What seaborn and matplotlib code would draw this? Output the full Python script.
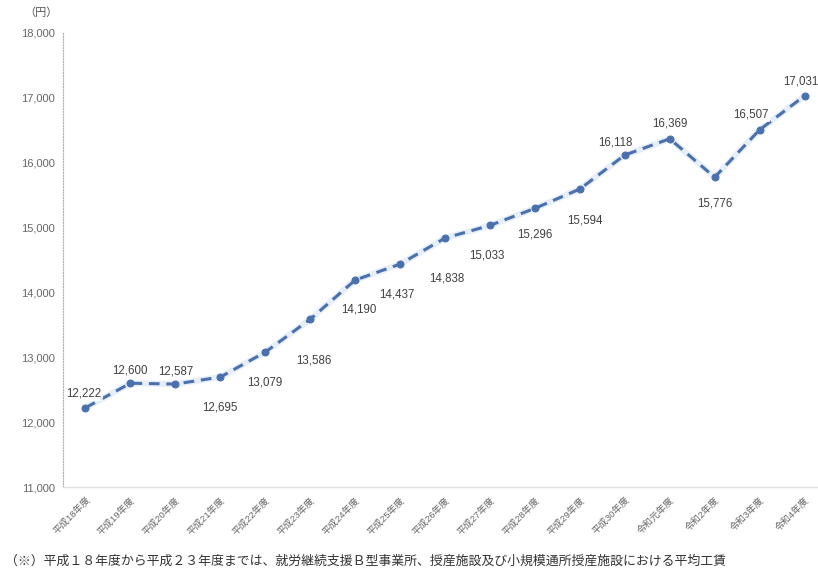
import matplotlib
matplotlib.use("Agg")
import matplotlib.pyplot as plt
import seaborn as sns
import pandas as pd
import numpy as np

years = ["平成18年度", "平成19年度", "平成20年度", "平成21年度", "平成22年度",
         "平成23年度", "平成24年度", "平成25年度", "平成26年度", "平成27年度",
         "平成28年度", "平成29年度", "平成30年度", "令和元年度", "令和2年度",
         "令和3年度", "令和4年度"]
wages = [12222, 12600, 12587, 12695, 13079, 13586, 14190, 14437, 14838,
         15033, 15296, 15594, 16118, 16369, 15776, 16507, 17031]
y_ticks = [11000, 12000, 13000, 14000, 15000, 16000, 17000, 18000]
unit_label = "（円）"
footnote = "（※）平成１８年度から平成２３年度までは、就労継続支援Ｂ型事業所、授産施設及び小規模通所授産施設における平均工賃"

# label placement (style): offset in points (dx, dy)
label_offsets = [(-1, 10), (0, 9), (0, 9), (0, -22), (0, -22), (3, -30),
                 (3, -21), (-2, -22), (1, -29), (-2, -22), (0, -19), (4, -23),
                 (-7, 9), (0, 11), (0, -19), (-6, 11), (-3, 10)]

sns.set_theme(style="white")
plt.rcParams['font.family'] = ['Liberation Sans', 'Noto Sans CJK JP', 'DejaVu Sans']

df = pd.DataFrame({"pos": np.arange(len(years)), "wage": wages})

fig = plt.figure(figsize=(8.18, 5.77), dpi=100)
ax = fig.add_axes([63/818, 90/577, 764/818, 454/577])

color = "#4a70ad"
ax.plot(df["pos"], df["wage"], color="#e6eff9", lw=4.5, solid_capstyle="round", zorder=1)
sns.lineplot(data=df, x="pos", y="wage", ax=ax, color=color, lw=2.2,
             linestyle=(0, (3.5, 2.2)), marker="o", markersize=5,
             markeredgecolor=color, zorder=3)

for i, (v, (dx, dy)) in enumerate(zip(wages, label_offsets)):
    ax.annotate(f"{v:,}", (i, v), xytext=(dx, dy), textcoords="offset points",
                ha="center", va="center", fontsize=8.3, color="#404040",
                bbox=dict(boxstyle="square,pad=0.1", fc="white", ec="none", alpha=0.8),
                zorder=4)

ax.set_xlim(-0.5, len(years) - 0.5)
ax.set_ylim(11000, 18000)
ax.set_yticks(y_ticks)
ax.set_yticklabels([f"{t:,}" for t in y_ticks], fontsize=8, color="#666666")
ax.set_xticks(np.arange(len(years)))
ax.set_xticklabels(years, rotation=45, ha="right", rotation_mode="anchor",
                   fontsize=6.8, color="#666666")
ax.tick_params(axis="both", length=0, pad=6)
ax.set_xlabel("")
ax.set_ylabel("")

for s in ["top", "right"]:
    ax.spines[s].set_visible(False)
ax.spines["left"].set_color("#b0b0b0")
ax.spines["left"].set_linestyle((0, (1, 1.5)))
ax.spines["left"].set_linewidth(0.8)
ax.spines["bottom"].set_color("#e0e0e0")
ax.spines["bottom"].set_linewidth(1.0)

fig.text(58/818, 1 - 13/577, unit_label, ha="right", va="center", fontsize=8, color="#555555")
fig.text(5/818, 1 - 561/577, footnote, ha="left", va="center", fontsize=9.3, color="#333333")

fig.savefig("out.png", dpi=100, facecolor="white")
